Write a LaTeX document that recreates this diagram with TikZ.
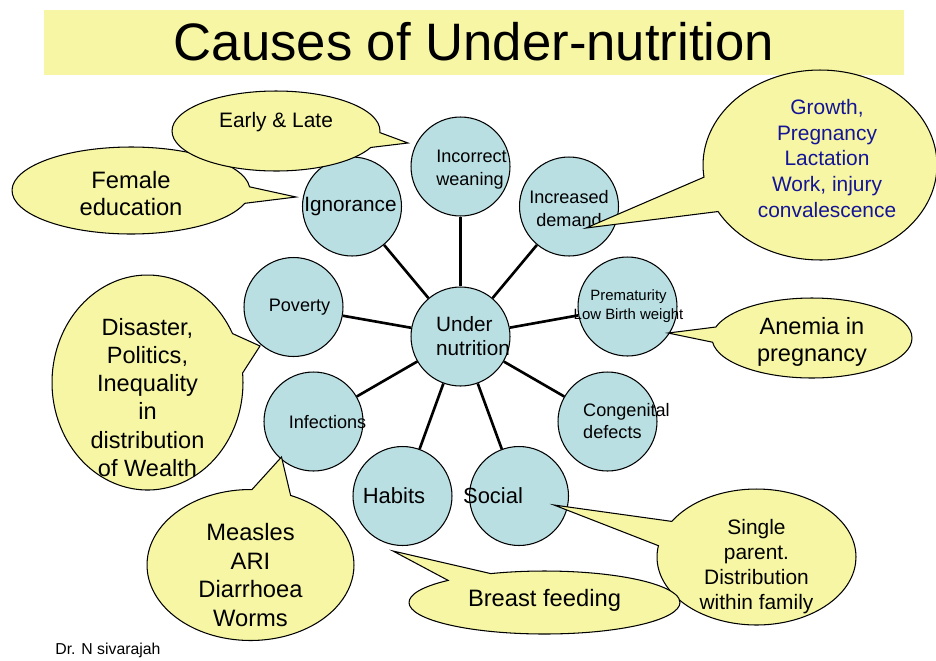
\documentclass[tikz,border=0pt]{standalone}
\usepackage{fontspec}
\setmainfont{Liberation Sans}
\usetikzlibrary{shapes.callouts}

\definecolor{causeblue}{RGB}{185,223,227}
\definecolor{noteyellow}{RGB}{246,246,164}
\definecolor{noteblue}{RGB}{20,20,150}

\newcommand{\fs}[2]{\fontsize{#1}{#2}\selectfont}

\tikzset{
  cause/.style={circle, draw, line width=0.6pt, fill=causeblue, minimum size=1.98cm, inner sep=0pt},
  bubble/.style={ellipse callout, draw, line width=0.6pt, fill=noteyellow, inner sep=0pt, callout pointer arc=22},
  spoke/.style={line width=1.5pt},
}

\begin{document}
\begin{tikzpicture}[x=0.02cm, y=-0.02cm]
\useasboundingbox (0,0) rectangle (936,660);

% title band
\fill[noteyellow] (44,10) rectangle (904,75);
\node[font=\fs{30}{36}] (title) at (474,42) {Causes of Under-nutrition};

% the causes round the centre
\node[cause, label={[font=\fs{11.8}{13.6}, align=left, xshift=0.25cm]center:{Under\\nutrition}}] (under) at (460.5,336.5) {};
\node[cause, label={[font=\fs{10.3}{13}, align=left, xshift=0.22cm, yshift=-0.06cm]center:{Incorrect\\weaning}}] (weaning) at (460.5,166.5) {};
\node[cause, label={[font=\fs{11.8}{13.6}, xshift=-0.03cm]center:Ignorance}] (ignorance) at (352,206.5) {};
\node[cause, label={[font=\fs{10.3}{13}, align=center, yshift=-0.04cm]center:{Increased\\demand}}] (demand) at (569,206.5) {};
\node[cause, label={[font=\fs{10.3}{13}, xshift=0.12cm]center:Poverty}] (poverty) at (293.5,307) {};
\node[cause, label={[font=\fs{8.5}{10.8}, align=center, xshift=0.02cm]center:{Prematurity\\Low Birth weight}}] (premature) at (627.5,306.5) {};
\node[cause, label={[font=\fs{10.3}{13}, xshift=0.28cm, yshift=-0.02cm]center:Infections}] (infections) at (313.5,421.5) {};
\node[cause, label={[font=\fs{10.3}{12.5}, align=left, xshift=0.38cm]center:{Congenital\\defects}}] (congenital) at (607.5,421.5) {};
\node[cause, label={[font=\fs{12.5}{15}, xshift=-0.17cm]center:Habits}] (habits) at (402.5,496) {};
\node[cause, label={[font=\fs{12.5}{15}, xshift=-0.52cm]center:Social}] (social) at (519,496) {};

\foreach \n in {weaning,ignorance,demand,poverty,premature,infections,congenital,habits,social}
  \draw[spoke] (under) -- (\n);

% callouts
\coordinate (femaletip) at (296,197);
\coordinate (earlytip) at (408,143);
\coordinate (growthtip) at (586,228);
\coordinate (anemiatip) at (668,333);
\coordinate (disastertip) at (260,346);
\coordinate (measlestip) at (281.5,457);
\coordinate (singletip) at (554,505);
\coordinate (breasttip) at (393,551);

\node[bubble, minimum width=4.76cm, minimum height=1.74cm, callout absolute pointer=(femaletip),
  label={[font=\fs{13.5}{15.9}, align=center, yshift=-0.06cm]center:{Female\\education}}] (female) at (131,190.5) {};
\node[bubble, minimum width=4.16cm, minimum height=1.6cm, callout absolute pointer=(earlytip),
  label={[font=\fs{11.9}{14}, yshift=0.18cm]center:{Early \& Late}}] (early) at (276,131) {};
\node[bubble, minimum width=4.68cm, minimum height=3.8cm, callout absolute pointer=(growthtip),
  label={[font=\fs{11.9}{14.6}, text=noteblue, align=center, xshift=0.14cm, yshift=0.13cm]center:{Growth,\\Pregnancy\\Lactation\\Work, injury\\convalescence}}] (growth) at (820,165) {};
\node[bubble, minimum width=4cm, minimum height=1.6cm, callout absolute pointer=(anemiatip),
  label={[font=\fs{13.4}{15.3}, align=center, yshift=-0.08cm]center:{Anemia in\\pregnancy}}] (anemia) at (812,338) {};
\node[bubble, minimum width=3.82cm, minimum height=4.3cm, callout absolute pointer=(disastertip),
  label={[font=\fs{13.4}{16}, align=center, yshift=-0.3cm]center:{Disaster,\\Politics,\\Inequality\\in\\distribution\\of Wealth}}] (disaster) at (147.5,382.5) {};
\node[bubble, minimum width=4.14cm, minimum height=3.02cm, callout absolute pointer=(measlestip),
  label={[font=\fs{13.5}{16.4}, align=center, yshift=-0.2cm]center:{Measles\\ARI\\Diarrhoea\\Worms}}] (measles) at (250.5,565) {};
\node[bubble, minimum width=3.98cm, minimum height=2.72cm, callout absolute pointer=(singletip),
  label={[font=\fs{11.9}{14.2}, align=center, yshift=-0.2cm]center:{Single\\parent.\\Distribution\\within family}}] (single) at (756.5,557) {};
\node[bubble, minimum width=5.42cm, minimum height=1.26cm, callout absolute pointer=(breasttip),
  label={[font=\fs{13.5}{16}, yshift=0.05cm]center:{Breast feeding}}] (breast) at (544.5,602.5) {};

\node[font=\fs{9}{11}, anchor=west, inner sep=0pt] (author) at (55,650) {Dr. N sivarajah};
\end{tikzpicture}
\end{document}
